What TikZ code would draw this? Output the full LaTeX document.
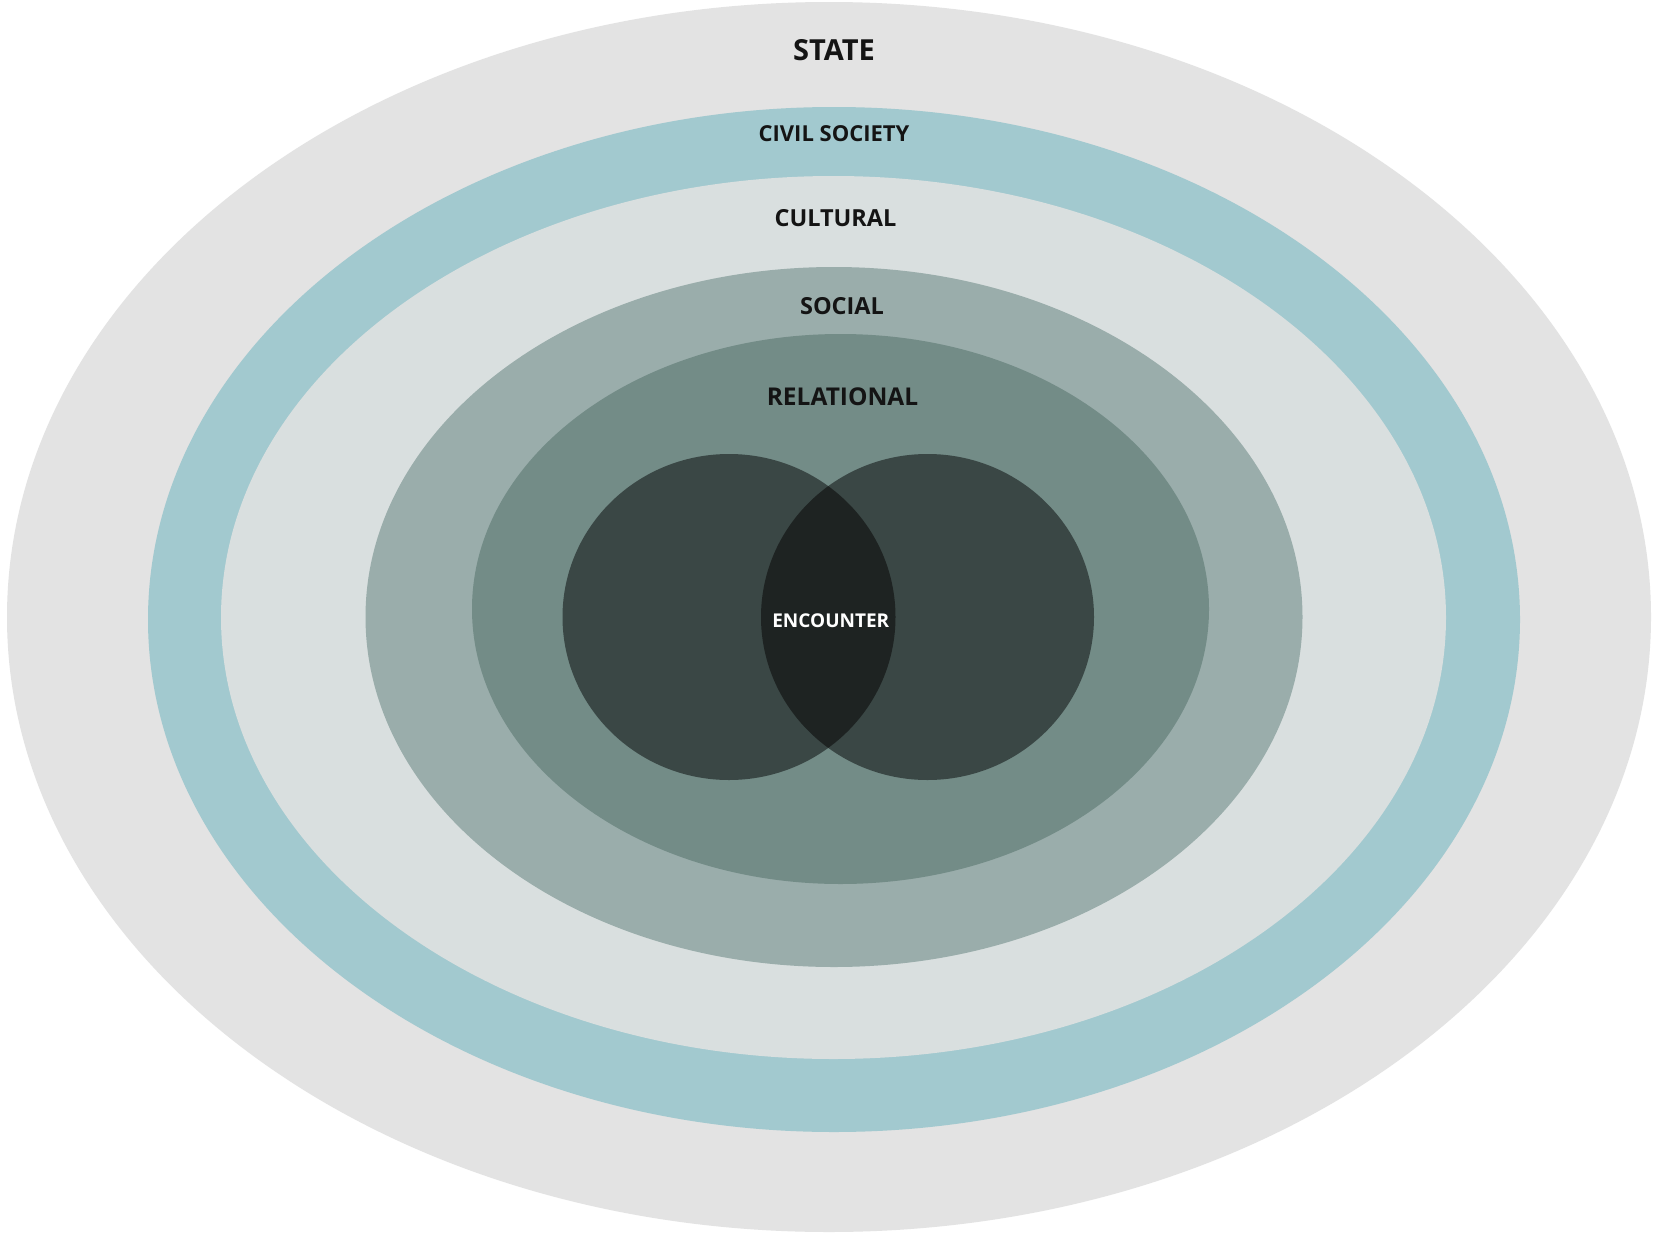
\documentclass[tikz,border=0pt]{standalone}
\usepackage{fontspec}
\setmainfont{Open Sans}
\usepackage{tikz}

\definecolor{stategray}{HTML}{E3E3E3}
\definecolor{civilblue}{HTML}{A2C9CF}
\definecolor{culturalgray}{HTML}{D9DFDF}
\definecolor{socialgreen}{HTML}{9AADAB}
\definecolor{relationalgreen}{HTML}{738C87}
\definecolor{partydark}{HTML}{3A4745}
\definecolor{encounterdark}{HTML}{1E2322}

\begin{document}
\begin{tikzpicture}[x=1pt,y=-1pt,
  ring/.style={line width=0,draw=none},
  ringlabel/.style={font=\bfseries\fontsize{#1}{#1}\selectfont,text=black!92,inner sep=0}]

\useasboundingbox (0,0) rectangle (1657,1234);

\begin{scope}

\fill [white] (0,0) rectangle (1657,1234);

\fill [ring,stategray] (829,617) ellipse (822 and 615);
\fill [ring,civilblue] (834,619.5) ellipse (686 and 512.5);
\fill [ring,culturalgray] (833.5,617.5) ellipse (612.5 and 441.5);
\fill [ring,socialgreen] (834,617) ellipse (468.5 and 350);
\fill [ring,relationalgreen] (840.5,609) ellipse (368.5 and 275);

\fill [ring,partydark] (729,617) ellipse (166.5 and 163);
\fill [ring,partydark] (927.5,617) ellipse (166.5 and 163);

\begin{scope}
\clip (729,617) ellipse (166.5 and 163);
\fill [ring,encounterdark] (927.5,617) ellipse (166.5 and 163);
\end{scope}

\end{scope}

\node [ringlabel=29] (state) at (834,50) {STATE};
\node [ringlabel=22] (civil) at (834,134) {CIVIL SOCIETY};
\node [ringlabel=23.5] (cultural) at (835.5,217.7) {CULTURAL};
\node [ringlabel=23.5] (social) at (842,305.7) {SOCIAL};
\node [ringlabel=24.5] (relational) at (842.5,397) {RELATIONAL};
\node [ringlabel=19,text=white] (encounter) at (830.8,621) {ENCOUNTER};

\end{tikzpicture}
\end{document}
